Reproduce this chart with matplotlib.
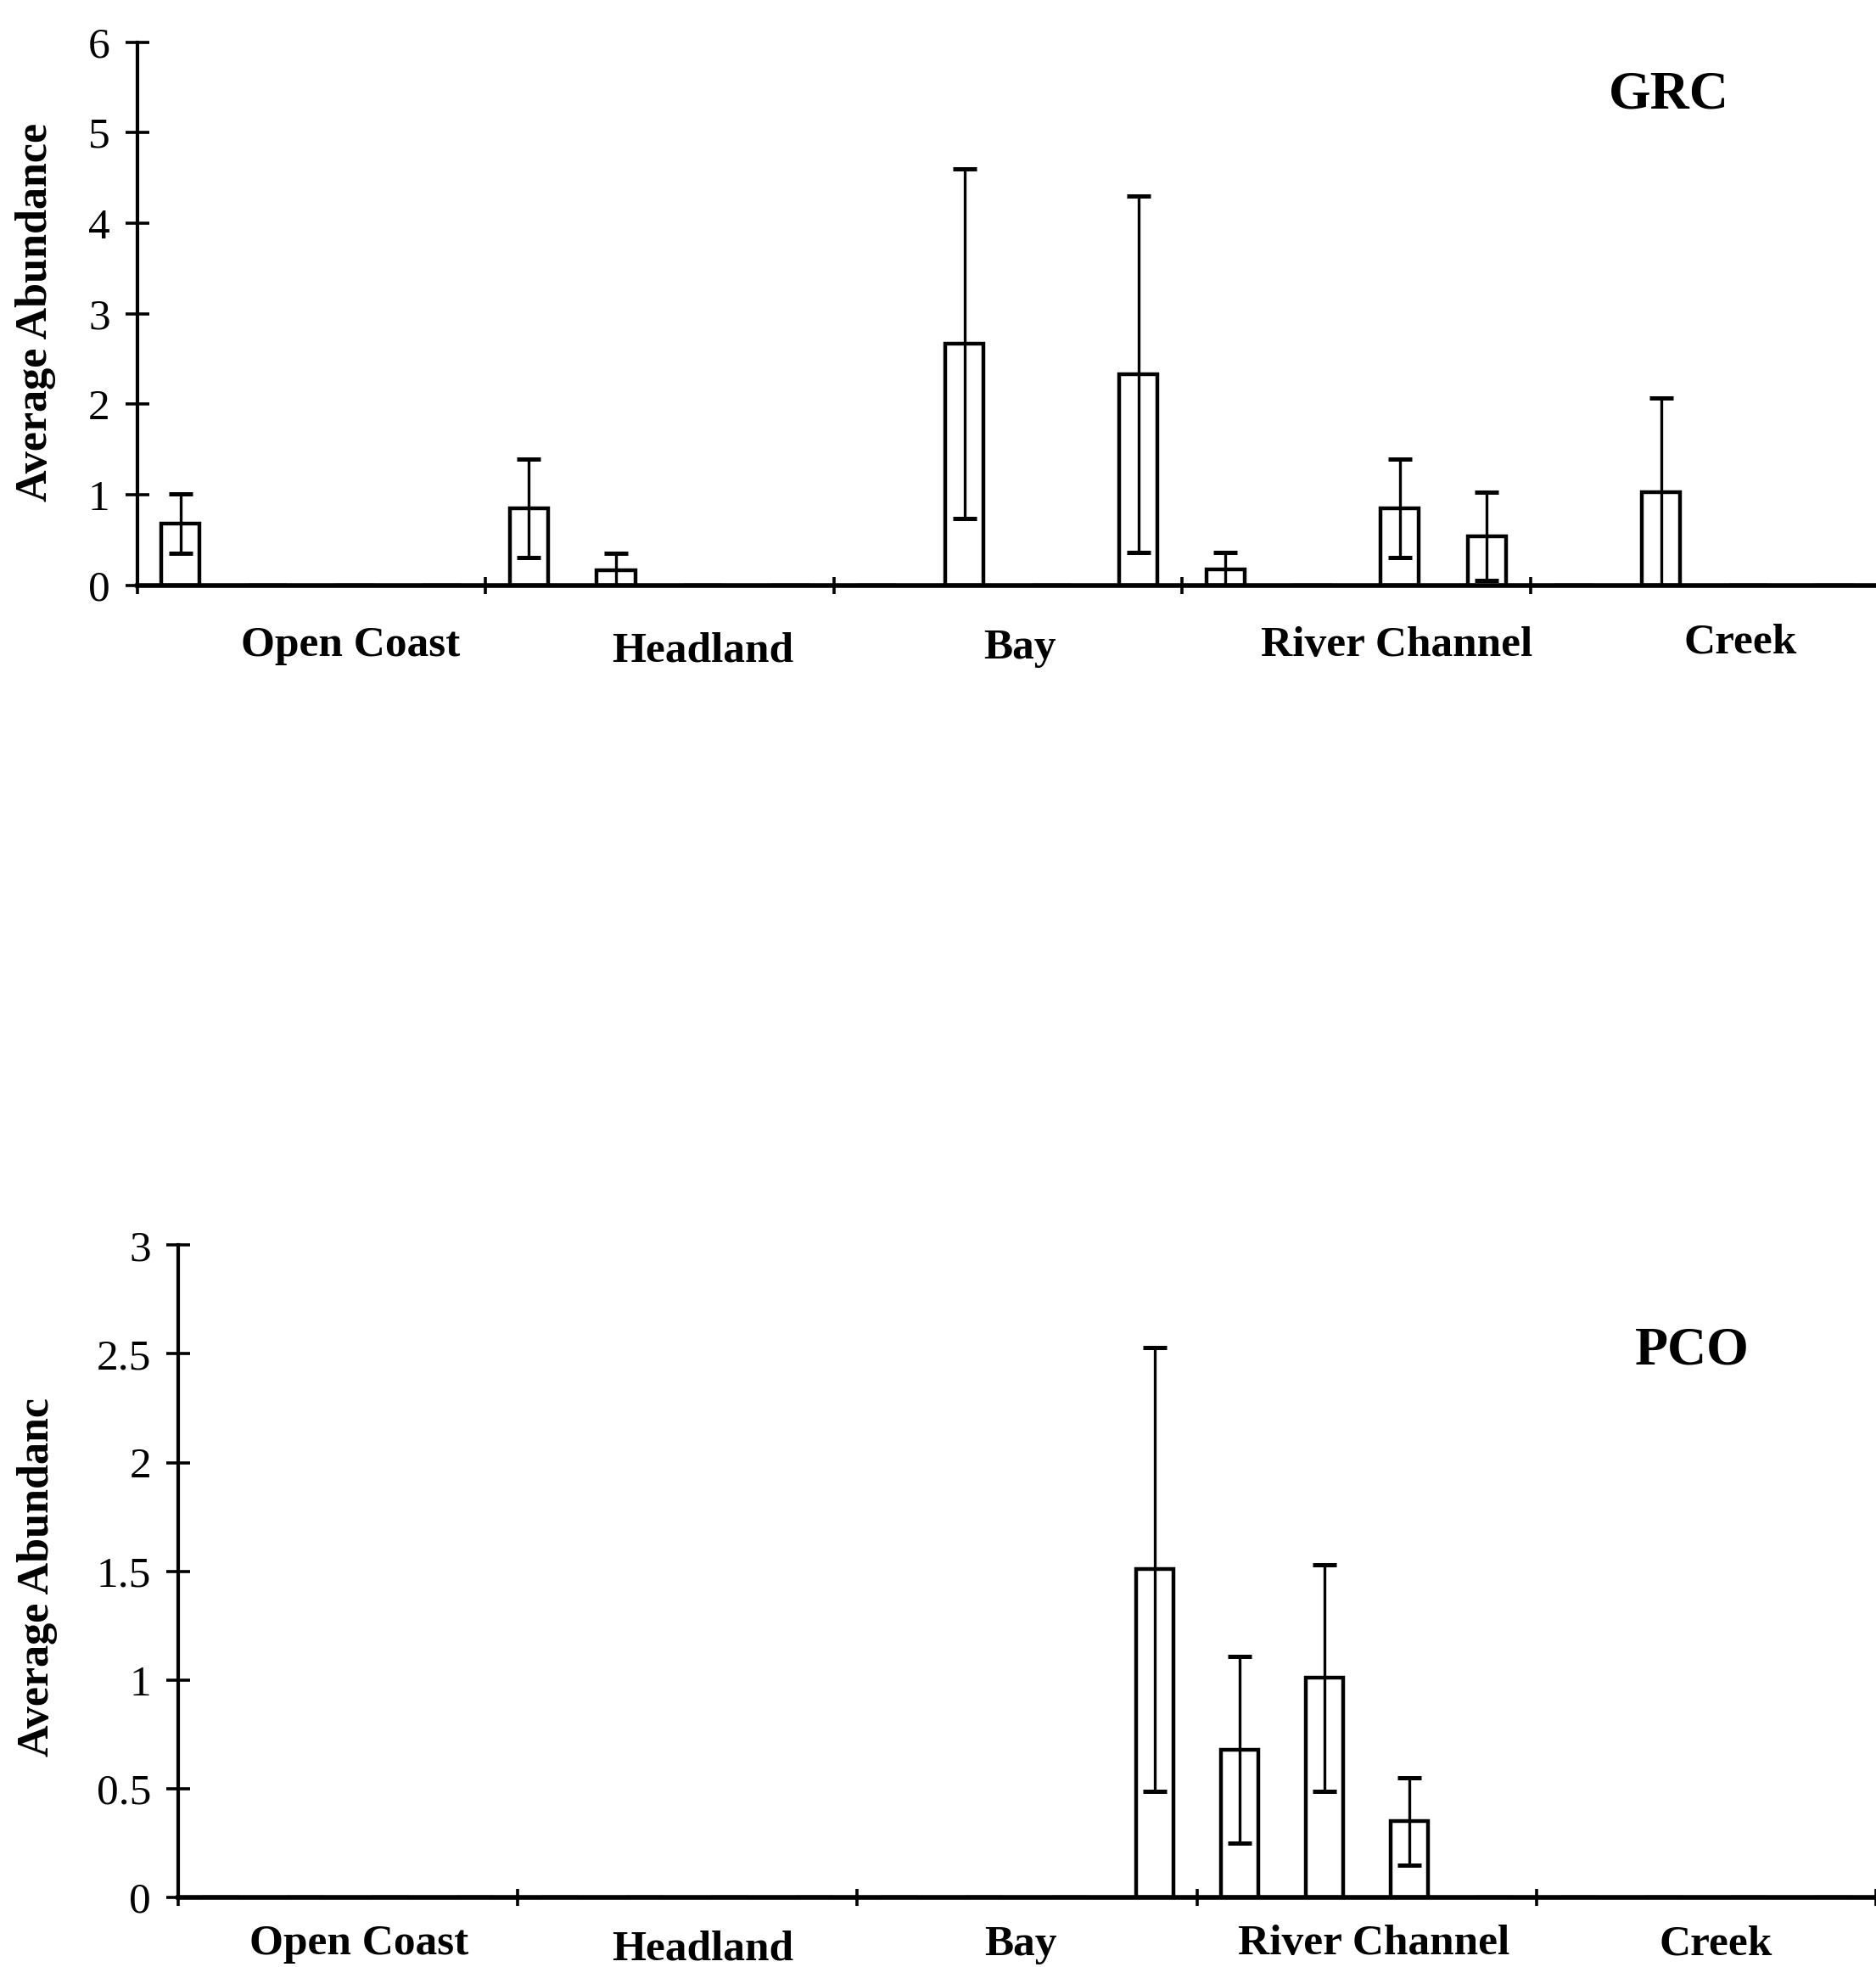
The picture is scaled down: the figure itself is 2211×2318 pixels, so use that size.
import matplotlib
matplotlib.use("Agg")
import matplotlib.pyplot as plt
import matplotlib.transforms as mtransforms
import numpy as np

plt.rcParams["font.family"] = ["Liberation Serif", "DejaVu Serif"]

# four sampling slots per habitat, 20 slots in all
habitats = ["Open Coast", "Headland", "Bay", "River Channel", "Creek"]

grc_mean = [0.68, 0, 0, 0,
            0.85, 0.17, 0, 0,
            0, 2.67, 0, 2.33,
            0.18, 0, 0.85, 0.54,
            0, 1.03, 0, 0]
grc_err = [0.33, 0, 0, 0,
           0.54, 0.18, 0, 0,
           0, 1.93, 0, 1.97,
           0.18, 0, 0.54, 0.49,
           0, 1.04, 0, 0]

pco_mean = [0, 0, 0, 0,
            0, 0, 0, 0,
            0, 0, 0, 1.51,
            0.68, 1.01, 0.35, 0,
            0, 0, 0, 0]
pco_err = [0, 0, 0, 0,
           0, 0, 0, 0,
           0, 0, 0, 1.02,
           0.43, 0.52, 0.20, 0,
           0, 0, 0, 0]

grc_yticks = [0, 1, 2, 3, 4, 5, 6]
grc_yticklabels = ["0", "1", "2", "3", "4", "5", "6"]
pco_yticks = [0, 0.5, 1, 1.5, 2, 2.5, 3]
pco_yticklabels = ["0", "0.5", "1", "1.5", "2", "2.5", "3"]

W, H = 2211, 2318


def px_rect(left, top, right, bottom):
    return [left / W, 1 - bottom / H, (right - left) / W, (bottom - top) / H]


def panel(fig, rect, means, errs, yticks, yticklabels, ylabel, ylabel_xy,
          tag, tag_xy, label_x, label_base):
    ax = fig.add_axes(rect)
    means = np.asarray(means, dtype=float)
    errs = np.asarray(errs, dtype=float)
    x = np.arange(len(means)) + 0.5

    ax.bar(x, means, width=0.44, color="white", edgecolor="black", linewidth=3.2, zorder=2)
    m = errs > 0
    ax.errorbar(x[m], means[m], yerr=errs[m], fmt="none", ecolor="black",
                elinewidth=2.4, capsize=10, capthick=3.6, zorder=3)

    ax.set_xlim(0, len(means))
    ax.set_ylim(yticks[0], yticks[-1])
    ax.set_xticks(np.arange(0, len(means) + 1, 4))
    ax.set_xticklabels([])
    ax.set_yticks(yticks)
    ax.set_yticklabels(yticklabels, fontsize=37)
    ax.tick_params(axis="y", direction="inout", length=20, width=2.6, pad=13)
    ax.tick_params(axis="x", direction="inout", length=15, width=2.6)
    ax.spines[["top", "right"]].set_visible(False)
    ax.spines["left"].set_linewidth(3.0)
    ax.spines["bottom"].set_linewidth(4.0)
    ax.spines["bottom"].set_zorder(4)

    fig.text(ylabel_xy[0] / W, 1 - ylabel_xy[1] / H, ylabel, rotation=90,
             ha="center", va="center", fontsize=37.5, fontweight="bold")
    fig.text(tag_xy[0] / W, 1 - tag_xy[1] / H, tag, ha="center", va="center",
             fontsize=46, fontweight="bold")

    trans = mtransforms.blended_transform_factory(ax.transData, fig.transFigure)
    for name, lx, ly in zip(habitats, label_x, label_base):
        ax.text(lx, 1 - ly / H, name, transform=trans, ha="center", va="baseline",
                fontsize=37, fontweight="bold", clip_on=False)
    return ax


def main():
    fig = plt.figure(figsize=(W / 100, H / 100), dpi=100)
    fig.patch.set_facecolor("white")

    panel(fig, px_rect(161.6, 49.5, 161.6 + 5 * 410.5, 689.8),
          grc_mean, grc_err, grc_yticks, grc_yticklabels,
          "Average Abundance", (42, 368), "GRC", (1967, 113),
          [2.45, 6.50, 10.14, 14.47, 18.41], [773, 779, 776, 773, 769])

    panel(fig, px_rect(210, 1467.3, 2211, 2236.1),
          pco_mean, pco_err, pco_yticks, pco_yticklabels,
          "Average Abundanc", (44, 1858), "PCO", (1994, 1592),
          [2.13, 6.18, 9.92, 14.08, 18.11], [2303, 2310, 2304, 2303, 2303])

    fig.savefig("out.png", dpi=100)


if __name__ == "__main__":
    main()
